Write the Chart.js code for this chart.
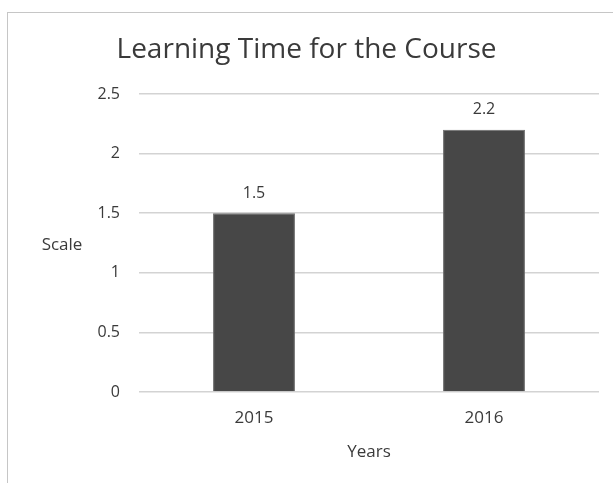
<!DOCTYPE html>
<html>
<head>
<meta charset="utf-8">
<script src="https://cdn.jsdelivr.net/npm/chart.js@4/dist/chart.umd.min.js"></script>
<style>
  html, body { margin: 0; padding: 0; background: #fff; }
  #wrap { position: relative; width: 613px; height: 483px; overflow: hidden; }
  #frame { position: absolute; left: 7px; top: 12px; width: 700px; height: 600px;
           border-left: 1px solid #c6c6c6; border-top: 1px solid #c6c6c6; }
  canvas { position: absolute; left: 0; top: 0; }
</style>
</head>
<body>
<div id="wrap">
  <div id="frame"></div>
  <canvas id="myChart" width="613" height="483"></canvas>
</div>
<script>
'use strict';

// chart data
var years = ['2015', '2016'];
var learningTime = [1.5, 2.2];
var yTicks = [0, 0.5, 1, 1.5, 2, 2.5];

var textColor = '#3a3a3a';
var fontName = '"Open Sans", "DejaVu Sans", sans-serif';

// value labels above each bar
var barLabels = {
  id: 'barLabels',
  afterDatasetsDraw: function(chart) {
    var ctx = chart.ctx;
    var meta = chart.getDatasetMeta(0);
    ctx.save();
    ctx.font = '16px ' + fontName;
    ctx.fillStyle = textColor;
    ctx.textAlign = 'center';
    ctx.textBaseline = 'middle';
    meta.data.forEach(function(bar, i) {
      ctx.fillText(String(learningTime[i]), bar.x, bar.y - 20);
    });
    ctx.restore();
  }
};

// axis titles: "Scale" sits horizontally left of the plot, "Years" below
var axisTitles = {
  id: 'axisTitles',
  afterDraw: function(chart) {
    var ctx = chart.ctx;
    var area = chart.chartArea;
    ctx.save();
    ctx.font = '17px ' + fontName;
    ctx.fillStyle = textColor;
    ctx.textAlign = 'center';
    ctx.textBaseline = 'middle';
    ctx.fillText('Scale', 62, (area.top + area.bottom) / 2 + 2);
    ctx.fillText('Years', (area.left + area.right) / 2, area.bottom + 60);
    ctx.restore();
  }
};

var canvas = document.getElementById('myChart');
var ctx = canvas.getContext('2d');

var chart = new Chart(ctx, {
  type: 'bar',
  data: {
    labels: years,
    datasets: [{
      data: learningTime,
      backgroundColor: '#474747',
      borderColor: '#6a6a6a',
      borderWidth: 1,
      categoryPercentage: 1,
      barPercentage: 0.356
    }]
  },
  options: {
    responsive: false,
    animation: false,
    layout: { padding: { left: 14, right: 14, top: 24, bottom: 0 } },
    plugins: {
      legend: { display: false },
      tooltip: { enabled: false },
      title: {
        display: true,
        text: 'Learning Time for the Course',
        color: textColor,
        font: { family: fontName, size: 28, weight: 'normal' },
        padding: { top: 9, bottom: 27.4 }
      }
    },
    scales: {
      x: {
        afterFit: function(scale) { scale.height = 91; },
        grid: { display: false, drawTicks: false },
        border: { display: false },
        ticks: { color: textColor, font: { family: fontName, size: 17 }, padding: 16 }
      },
      y: {
        min: 0,
        max: 2.5,
        afterFit: function(scale) { scale.width = 125; },
        afterBuildTicks: function(scale) {
          scale.ticks = yTicks.map(function(v) { return { value: v }; });
        },
        grid: { color: '#d3d3d3', lineWidth: 1.6, drawTicks: false },
        border: { display: false },
        ticks: {
          color: textColor,
          font: { family: fontName, size: 16 },
          padding: 19,
          callback: function(v) { return String(v); }
        }
      }
    }
  },
  plugins: [barLabels, axisTitles]
});
</script>
</body>
</html>
